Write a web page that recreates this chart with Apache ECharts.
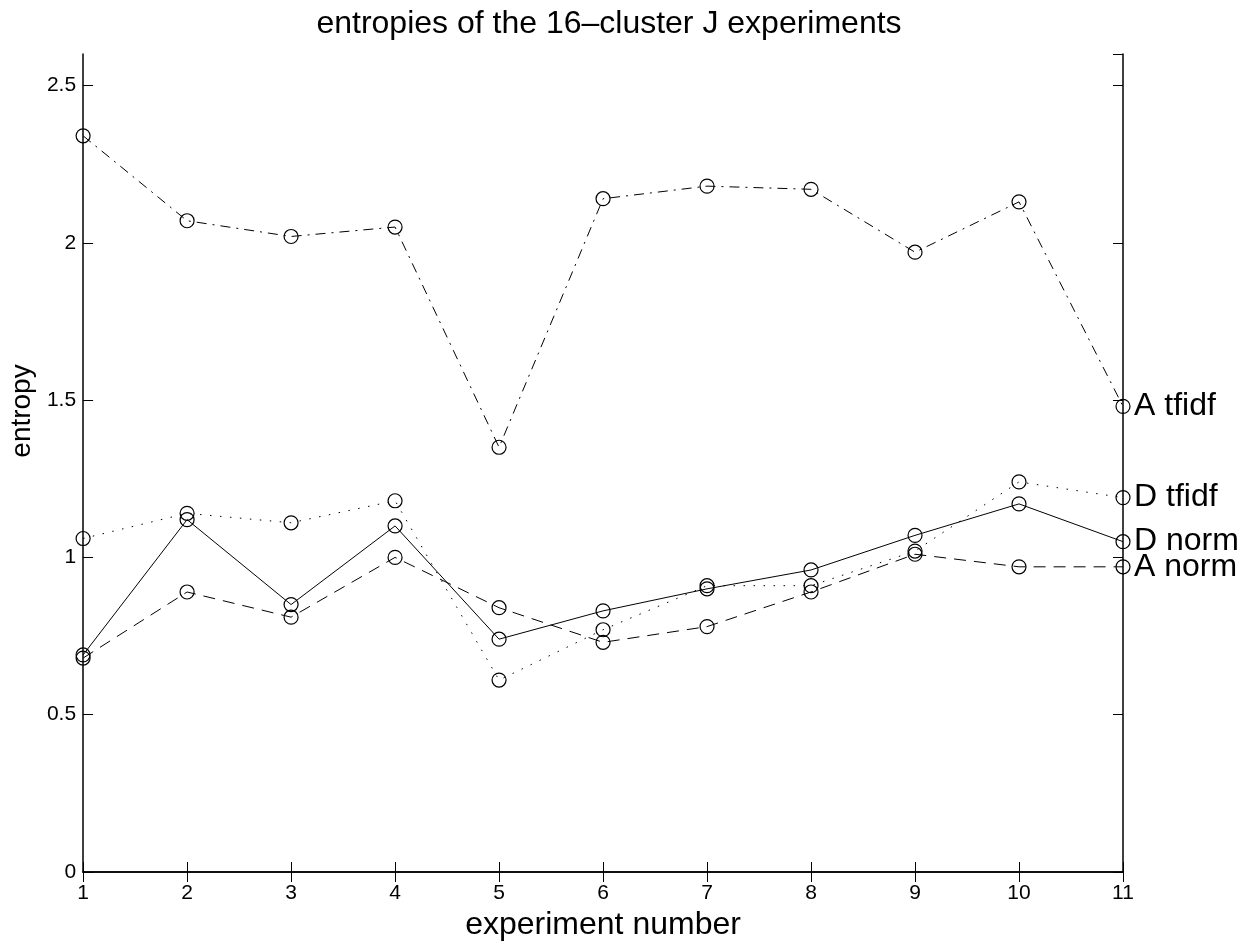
<!DOCTYPE html>
<html>
<head>
<meta charset="utf-8">
<title>entropies of the 16-cluster J experiments</title>
<script src="https://cdn.jsdelivr.net/npm/echarts@6/dist/echarts.min.js"></script>
<style>
  html, body { margin: 0; padding: 0; background: #fff; }
  #chart { width: 1254px; height: 946px; }
</style>
</head>
<body>
<div id="chart"></div>
<script>
// experiment numbers on the x axis
const experiments = [1, 2, 3, 4, 5, 6, 7, 8, 9, 10, 11]

// entropy per experiment
const aTfidf = [2.34, 2.07, 2.02, 2.05, 1.35, 2.14, 2.18, 2.17, 1.97, 2.13, 1.48]
const dTfidf = [1.06, 1.14, 1.11, 1.18, 0.61, 0.77, 0.91, 0.91, 1.02, 1.24, 1.19]
const dNorm = [0.69, 1.12, 0.85, 1.10, 0.74, 0.83, 0.90, 0.96, 1.07, 1.17, 1.05]
const aNorm = [0.68, 0.89, 0.81, 1.00, 0.84, 0.73, 0.78, 0.89, 1.01, 0.97, 0.97]

const yTicks = [0, 0.5, 1, 1.5, 2, 2.5]

const FONT = 'Liberation Sans'
const ink = '#000'

const chart = echarts.init(document.getElementById('chart'), null, { renderer: 'canvas' })

// one line series: black line, open circles the line shows through, name at the right end
const makeSeries = (name, values, dash) => ({
  name,
  type: 'line',
  data: experiments.map((x, i) => [x, values[i]]),
  symbol: 'circle',
  symbolSize: 14,
  showAllSymbol: true,
  clip: false,
  lineStyle: { color: ink, width: 1, type: dash },
  itemStyle: { color: 'rgba(0,0,0,0)', borderColor: ink, borderWidth: 1.2 },
  emphasis: { disabled: true },
  animation: false,
  endLabel: {
    show: true,
    formatter: name,
    distance: 11,
    color: ink,
    fontFamily: FONT,
    fontSize: 32
  }
})

const baseX = {
  type: 'value',
  min: 1,
  max: 11,
  interval: 1,
  splitLine: { show: false },
  axisLine: { lineStyle: { color: ink, width: 1.5 } },
  axisTick: { inside: true, length: 10, lineStyle: { color: ink } }
}

const baseY = {
  type: 'value',
  min: 0,
  max: 2.6,
  interval: 0.5,
  splitLine: { show: false },
  axisLine: { show: true, lineStyle: { color: ink, width: 1.5 } },
  axisTick: { inside: true, length: 10, lineStyle: { color: ink } }
}

const option = {
  backgroundColor: '#fff',
  animation: false,
  title: {
    text: 'entropies of the 16\u2013cluster J experiments',
    left: 604,
    textAlign: 'center',
    top: 3,
    textStyle: { fontFamily: FONT, fontSize: 32, fontWeight: 'normal', color: ink }
  },
  grid: { left: 82, right: 131, top: 54, bottom: 74 },
  xAxis: [
    {
      ...baseX,
      position: 'bottom',
      name: 'experiment number',
      nameLocation: 'middle',
      nameGap: 34,
      nameTextStyle: { fontFamily: FONT, fontSize: 32, color: ink },
      axisLabel: { fontFamily: FONT, fontSize: 21, color: ink, margin: 11 }
    },
    { ...baseX, position: 'top', axisLabel: { show: false } }
  ],
  yAxis: [
    {
      ...baseY,
      position: 'left',
      name: 'entropy',
      nameLocation: 'middle',
      nameGap: 44,
      nameTextStyle: { fontFamily: FONT, fontSize: 28, color: ink, padding: [0, 0, 0, 104] },
      axisLabel: {
        fontFamily: FONT,
        fontSize: 21,
        color: ink,
        margin: 7,
        showMaxLabel: false,
        formatter: v => (yTicks.includes(v) ? String(v) : '')
      }
    },
    { ...baseY, position: 'right', axisLabel: { show: false } }
  ],
  series: [
    makeSeries('A tfidf', aTfidf, [10, 6, 2, 6]),
    makeSeries('D tfidf', dTfidf, [1.5, 8.5]),
    makeSeries('D norm', dNorm, 'solid'),
    makeSeries('A norm', aNorm, [12, 8])
  ]
}

chart.setOption(option)
window.addEventListener('resize', () => chart.resize())
</script>
</body>
</html>
